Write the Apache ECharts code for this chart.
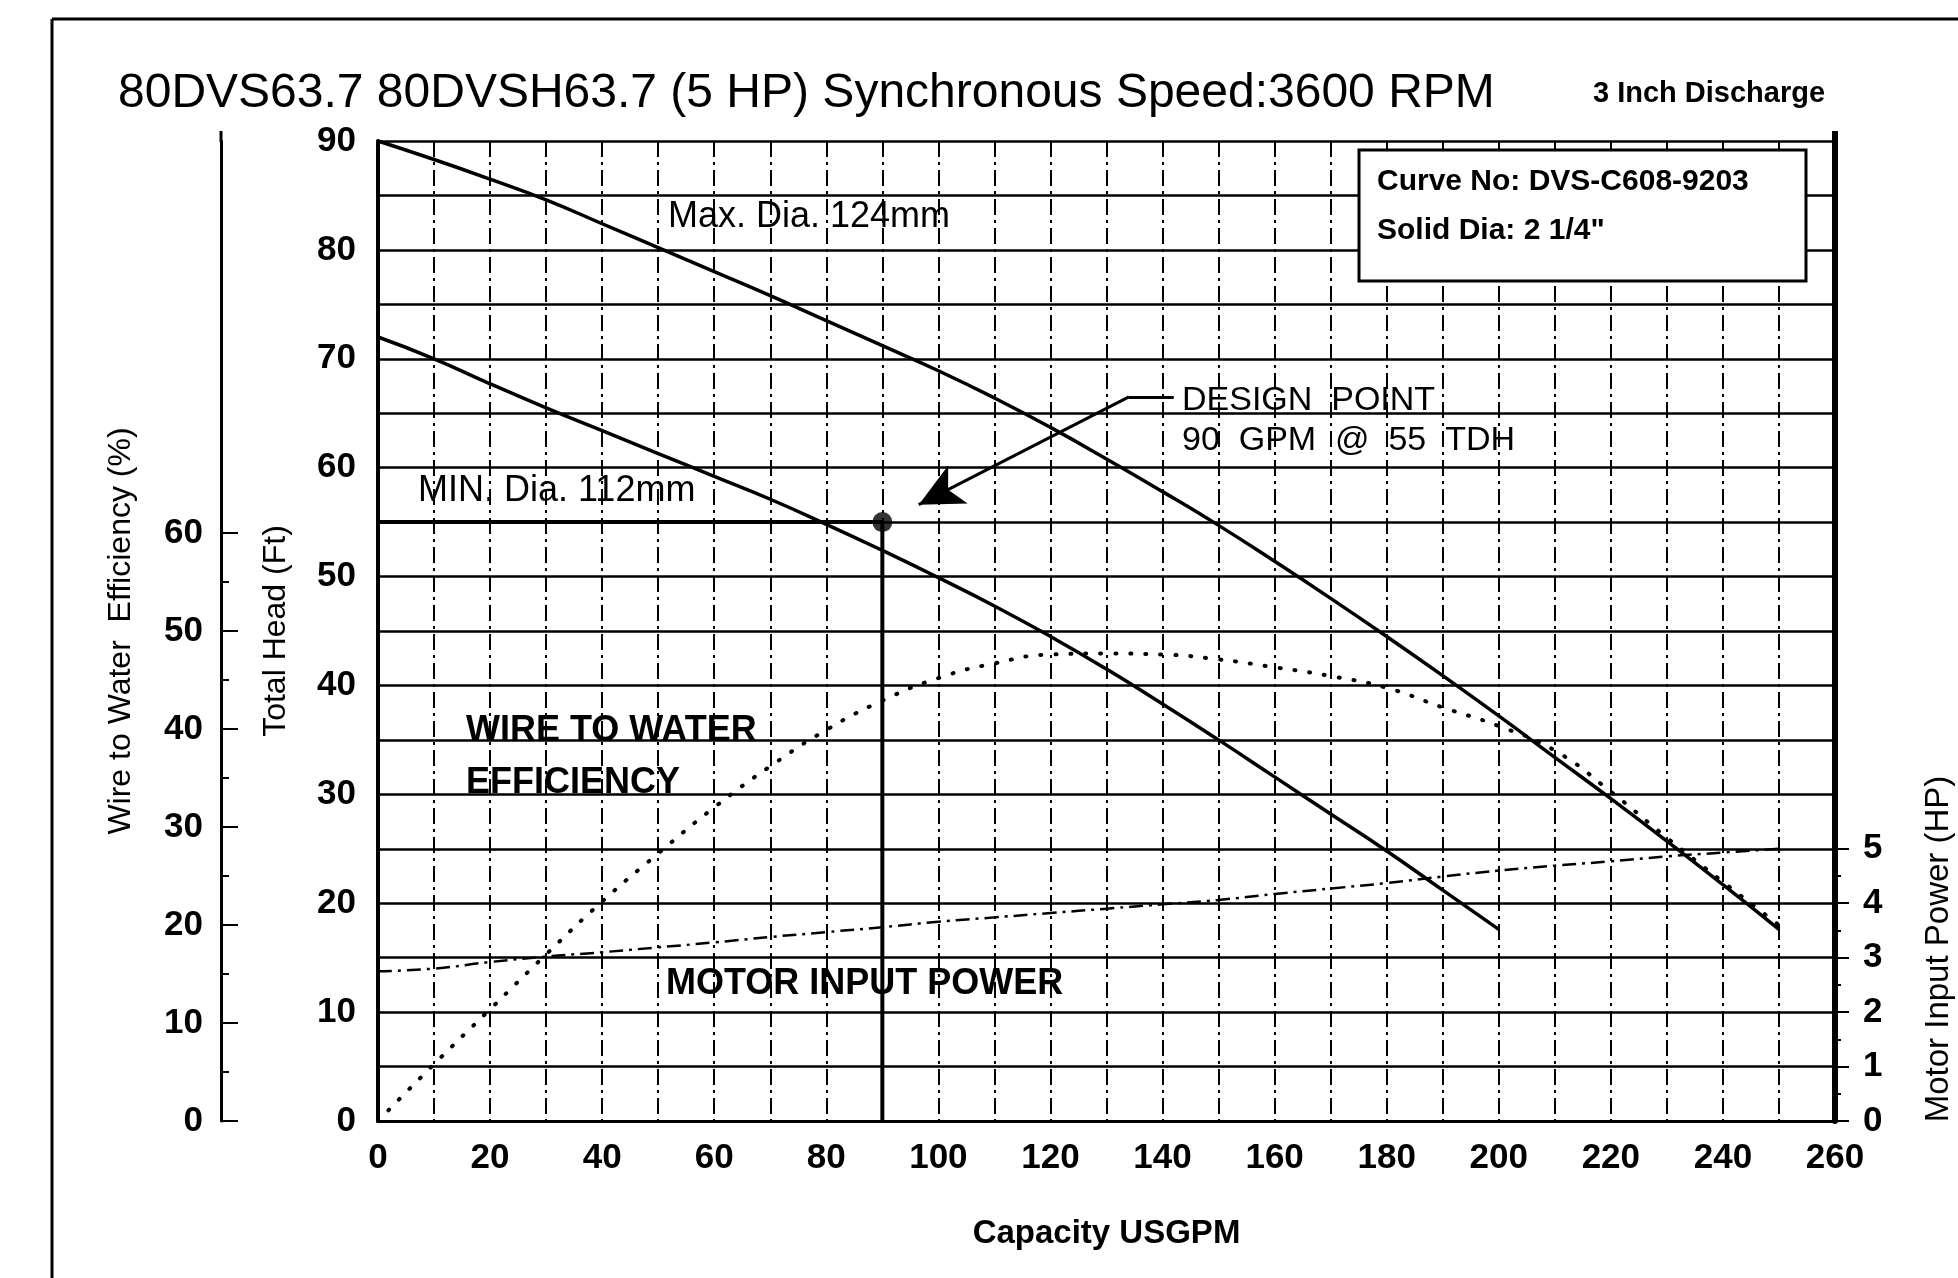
<!DOCTYPE html>
<html>
<head>
<meta charset="utf-8">
<title>80DVS63.7 pump curve</title>
<script src="https://cdn.jsdelivr.net/npm/echarts@6/dist/echarts.min.js"></script>
<style>
  html, body { margin: 0; padding: 0; background: #fff; }
  #main { width: 1958px; height: 1278px; }
</style>
</head>
<body>
<div id="main"></div>
<script>
// capacity steps (USGPM)
const gpm = [0, 10, 20, 30, 40, 50, 60, 70, 80, 90, 100, 110, 120, 130, 140, 150, 160, 170, 180, 190, 200, 210, 220, 230, 240, 250]
// total head (ft) for the two impellers
const maxDiaHead = [90, 88.3, 86.5, 84.6, 82.4, 80.2, 78, 75.8, 73.5, 71.2, 68.9, 66.4, 63.7, 60.8, 57.8, 54.7, 51.4, 48, 44.5, 40.9, 37.2, 33.4, 29.6, 25.7, 21.7, 17.6]
const minDiaHead = [72, 70, 67.7, 65.5, 63.4, 61.3, 59.2, 57.1, 54.8, 52.4, 49.9, 47.3, 44.5, 41.5, 38.3, 35, 31.6, 28.2, 24.8, 21.2, 17.6]
// wire to water efficiency (%)
const efficiency = [0, 5.8, 11.4, 17, 22.4, 27.3, 32, 36.2, 39.9, 42.9, 45.2, 46.7, 47.6, 47.7, 47.6, 47.1, 46.3, 45.4, 44.2, 42.2, 40.3, 37.8, 33.6, 28.9, 24.4, 20]
// motor input power (HP)
const motorPower = [2.75, 2.8, 2.92, 3.02, 3.1, 3.19, 3.28, 3.38, 3.47, 3.56, 3.66, 3.74, 3.82, 3.9, 3.98, 4.06, 4.17, 4.27, 4.37, 4.49, 4.6, 4.69, 4.77, 4.86, 4.93, 5.0]
// design point and its pointer (gpm, ft)
const designPoint = [90, 55]
const pointerPath = [[142, 66.5], [134, 66.5], [96.5, 56.6]]
// tick labels
const effTicks = [0, 10, 20, 30, 40, 50, 60]
const effMinorTicks = [5, 15, 25, 35, 45, 55]
const powerTicks = [0, 1, 2, 3, 4, 5]
const powerMinorTicks = [0.5, 1.5, 2.5, 3.5, 4.5]

const zip = (xs, ys) => ys.map((y, i) => [xs[i], y])

const black = '#000'
const labelFont = { color: black, fontFamily: 'Liberation Sans', fontWeight: 'bold', fontSize: 35 }
const nameFont = { color: black, fontFamily: 'Liberation Sans', fontSize: 32 }

let myChart = echarts.init(document.getElementById('main'))

let option = {
    backgroundColor: '#fff',
    animation: false,
    grid: { left: 378, right: 123, top: 141, bottom: 157 },
    xAxis: {
        type: 'value', min: 0, max: 260, interval: 10,
        axisLine: { lineStyle: { color: black, width: 3 } },
        axisTick: { show: false },
        axisLabel: Object.assign({ margin: 20, formatter: v => (v % 20 === 0 ? v : '') }, labelFont),
        splitLine: { show: true, lineStyle: { color: black, width: 2, type: [16, 5, 3, 5] } },
        name: 'Capacity USGPM', nameLocation: 'middle', nameGap: 96,
        nameTextStyle: { color: black, fontFamily: 'Liberation Sans', fontWeight: 'bold', fontSize: 33 }
    },
    yAxis: [{
        // total head
        type: 'value', min: 0, max: 90, interval: 5, position: 'left',
        axisLine: { show: true, lineStyle: { color: black, width: 4 } },
        axisTick: { show: false },
        axisLabel: Object.assign({ margin: 22, formatter: v => (v % 10 === 0 ? v : '') }, labelFont),
        splitLine: { show: true, lineStyle: { color: black, width: 2.5 } },
        name: 'Total Head (Ft)', nameLocation: 'middle', nameGap: 86,
        nameTextStyle: nameFont
    }, {
        // efficiency scale
        type: 'value', min: 0, max: 100, position: 'left', offset: 157,
        axisLine: { show: true, lineStyle: { color: black, width: 3 } },
        axisTick: { show: true, inside: true, length: 17, customValues: effTicks, lineStyle: { color: black, width: 2 } },
        axisLabel: Object.assign({ margin: 18, customValues: effTicks }, labelFont),
        splitLine: { show: false },
        name: 'Wire to Water  Efficiency (%)', nameLocation: 'middle', nameGap: 84,
        nameTextStyle: nameFont
    }, {
        type: 'value', min: 0, max: 100, position: 'left', offset: 157,
        axisLine: { show: false },
        axisTick: { show: true, inside: true, length: 8, customValues: effMinorTicks, lineStyle: { color: black, width: 2 } },
        axisLabel: { show: false },
        splitLine: { show: false }
    }, {
        // motor power
        type: 'value', min: 0, max: 18, position: 'right',
        axisLine: { show: true, lineStyle: { color: black, width: 6 } },
        axisTick: { show: true, length: 14, customValues: powerTicks, lineStyle: { color: black, width: 2 } },
        axisLabel: Object.assign({ margin: 28, customValues: powerTicks }, labelFont),
        splitLine: { show: false }
    }, {
        type: 'value', min: 0, max: 18, position: 'right',
        axisLine: { show: false },
        axisTick: { show: true, length: 6, customValues: powerMinorTicks, lineStyle: { color: black, width: 2 } },
        axisLabel: { show: false },
        splitLine: { show: false }
    }],
    series: [{
        name: 'Max. Dia. 124mm', type: 'line', smooth: true, symbol: 'none',
        data: zip(gpm, maxDiaHead),
        lineStyle: { color: black, width: 3.5 }, z: 5
    }, {
        name: 'MIN. Dia. 112mm', type: 'line', smooth: true, symbol: 'none',
        data: zip(gpm, minDiaHead),
        lineStyle: { color: black, width: 3.5 }, z: 5
    }, {
        name: 'Wire to Water Efficiency', type: 'line', smooth: true, symbol: 'none', yAxisIndex: 1,
        data: zip(gpm, efficiency),
        lineStyle: { color: black, width: 4, type: [1, 14], cap: 'round' }, z: 5
    }, {
        name: 'Motor Input Power', type: 'line', smooth: true, symbol: 'none', yAxisIndex: 3,
        data: zip(gpm, motorPower),
        lineStyle: { color: black, width: 2.5, type: [14, 6, 3, 6] }, z: 5
    }, {
        name: 'Design', type: 'line', symbol: 'none',
        data: [[0, designPoint[1]], designPoint, [designPoint[0], 0]],
        lineStyle: { color: black, width: 4 }, z: 6,
        markLine: {
            silent: true, animation: false,
            lineStyle: { color: black, width: 3, type: 'solid' },
            label: { show: false },
            data: [
                [{ coord: pointerPath[0], symbol: 'none' }, { coord: pointerPath[1], symbol: 'none' }],
                [{ coord: pointerPath[1], symbol: 'none' }, { coord: pointerPath[2], symbol: 'arrow', symbolSize: [32, 44] }]
            ]
        }
    }, {
        name: 'Design Point', type: 'scatter', symbolSize: 20,
        data: [designPoint],
        itemStyle: { color: black }, z: 7
    }],
    graphic: [
        { type: 'line', shape: { x1: 52, y1: 19, x2: 1958, y2: 19 }, style: { stroke: black, lineWidth: 3 } },
        { type: 'line', shape: { x1: 52, y1: 19, x2: 52, y2: 1278 }, style: { stroke: black, lineWidth: 3 } },
        // axis lines run a little above the plot top
        { type: 'line', shape: { x1: 221, y1: 131, x2: 221, y2: 142 }, style: { stroke: black, lineWidth: 3 } },
        { type: 'line', shape: { x1: 1835, y1: 131, x2: 1835, y2: 142 }, style: { stroke: black, lineWidth: 6 } },
        { type: 'text', x: 118, y: 94, style: { text: '80DVS63.7 80DVSH63.7 (5 HP) Synchronous Speed:3600 RPM', font: '48px "Liberation Sans"', fill: black, textVerticalAlign: 'middle' } },
        { type: 'text', x: 1593, y: 94, style: { text: '3 Inch Discharge', font: 'bold 29px "Liberation Sans"', fill: black, textVerticalAlign: 'middle' } },
        { type: 'rect', z: 10, shape: { x: 1359, y: 150, width: 447, height: 131 }, style: { fill: '#fff', stroke: black, lineWidth: 3 } },
        { type: 'text', z: 11, x: 1377, y: 182, style: { text: 'Curve No: DVS-C608-9203', font: 'bold 30px "Liberation Sans"', fill: black, textVerticalAlign: 'middle' } },
        { type: 'text', z: 11, x: 1377, y: 231, style: { text: 'Solid Dia: 2 1/4"', font: 'bold 30px "Liberation Sans"', fill: black, textVerticalAlign: 'middle' } },
        { type: 'text', z: 11, x: 668, y: 217, style: { text: 'Max. Dia. 124mm', font: '36px "Liberation Sans"', fill: black, textVerticalAlign: 'middle' } },
        { type: 'text', z: 11, x: 418, y: 491, style: { text: 'MIN. Dia. 112mm', font: '36px "Liberation Sans"', fill: black, textVerticalAlign: 'middle' } },
        { type: 'text', z: 11, x: 1182, y: 401, style: { text: 'DESIGN  POINT', font: '34px "Liberation Sans Narrow", "Liberation Sans"', fill: black, textVerticalAlign: 'middle' } },
        { type: 'text', z: 11, x: 1182, y: 441, style: { text: '90  GPM  @  55  TDH', font: '34px "Liberation Sans Narrow", "Liberation Sans"', fill: black, textVerticalAlign: 'middle' } },
        { type: 'text', z: 11, x: 466, y: 731, style: { text: 'WIRE TO WATER', font: 'bold 36px "Liberation Sans"', fill: black, textVerticalAlign: 'middle' } },
        { type: 'text', z: 11, x: 466, y: 783, style: { text: 'EFFICIENCY', font: 'bold 36px "Liberation Sans"', fill: black, textVerticalAlign: 'middle' } },
        { type: 'text', z: 11, x: 666, y: 984, style: { text: 'MOTOR INPUT POWER', font: 'bold 36px "Liberation Sans"', fill: black, textVerticalAlign: 'middle' } },
        { type: 'text', x: 1939, y: 949, rotation: Math.PI / 2, style: { text: 'Motor Input Power (HP)', font: '33px "Liberation Sans"', fill: black, textAlign: 'center', textVerticalAlign: 'middle' } }
    ]
}
myChart.setOption(option)
</script>
</body>
</html>
